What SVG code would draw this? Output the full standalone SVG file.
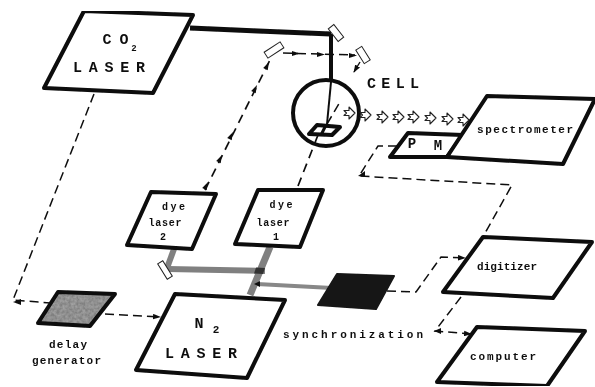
<svg xmlns="http://www.w3.org/2000/svg" width="595" height="387" viewBox="0 0 595 387">
<style>
.box{fill:#fff;stroke:#0a0a0a;stroke-width:4;stroke-linejoin:round}
.dash{fill:none;stroke:#111;stroke-width:1.5;stroke-dasharray:9 5}
.dashb{fill:none;stroke:#111;stroke-width:1.7;stroke-dasharray:9 6}
.t{font-family:"Liberation Mono",monospace;font-weight:bold;fill:#111;text-anchor:middle}
.mir{fill:#fff;stroke:#222;stroke-width:1}
.open{fill:#fff;stroke:#222;stroke-width:1.1;stroke-linejoin:round}
.ah{fill:#111;stroke:none}
</style>
<defs>
<marker id="arr" markerWidth="8" markerHeight="6" refX="7" refY="3" orient="auto" markerUnits="userSpaceOnUse"><path class="ah" d="M0 0.2L8 3L0 5.800z"/></marker>
<path id="oa" class="open" d="M-5 -2.500H0V-6L6 0L0 6V2.500H-5L-2.500 0z"/>
<filter id="soft" x="0" y="0" width="1" height="1"><feGaussianBlur stdDeviation="0.4"/></filter>
<filter id="grain" x="0" y="0" width="1" height="1"><feTurbulence type="fractalNoise" baseFrequency="0.35" numOctaves="2" seed="4"/><feColorMatrix values="0 0 0 0 0.4 0 0 0 0 0.4 0 0 0 0 0.4 1.4 0 0 0 -0.35"/><feComposite in2="SourceGraphic" operator="in"/><feMerge><feMergeNode in="SourceGraphic"/><feMergeNode/></feMerge></filter>
</defs>
<rect width="595" height="387" fill="#fff"/>
<g filter="url(#soft)">
<g id="connectors">
<path d="M190 28L331 34" fill="none" stroke="#0a0a0a" stroke-width="5"/>
<path d="M331 34V82" fill="none" stroke="#0a0a0a" stroke-width="4"/>
<path d="M174 249L167 268" fill="none" stroke="#808080" stroke-width="6"/>
<path d="M168 269L265 271" fill="none" stroke="#808080" stroke-width="6"/>
<path d="M270 247L250 295" fill="none" stroke="#808080" stroke-width="7"/>
<path d="M257 284L332 288" fill="none" stroke="#888" stroke-width="4"/>
<path d="M256 267.500L265 268L263 274L254 273.500z" fill="#333"/>
<path d="M254 284L260 281V287z" fill="#111"/>
<path class="dash" d="M94 94L13 300L50 303"/>
<path d="M13 302L21 299V305z" fill="#111"/>
<path class="dash" d="M105 314L160 317" marker-end="url(#arr)"/>
<path class="dashb" d="M205 190L270 60"/>
<path class="ah" d="M269 62L267.700 70.300L263.200 68.100z M257 85L255.700 93.300L251.200 91.100z M233 132L231.700 140.300L227.200 138.100z M222 155L220.700 163.300L216.200 161.100z M208 182L206.700 190.300L202.200 188.100z"/>
<path class="dashb" d="M298 186L318 135"/>
<path class="dash" d="M283 53L355 55"/>
<path class="ah" d="M300 53.500L292 51V56z M325 54.500L317 52V57z M357 55.500L349 53V58z"/>
<path d="M360 62L354 72" fill="none" stroke="#111" stroke-width="1.400" marker-end="url(#arr)"/>
<path class="dash" d="M397 146H378L359 176L512 185L484 235"/>
<path class="ah" d="M358 176L365 171V177z"/>
<path class="dash" d="M387 291L416 292L441 257L465 258" marker-end="url(#arr)"/>
<path class="dash" d="M461 297L435 331L471 334" marker-end="url(#arr)"/>
<path class="ah" d="M434 331L441 328V334z"/>
</g>
<g id="co2-laser"><path class="box" d="M84 11L193 15L153 93L44 88z"/>
<text class="t" x="115.500" y="44" font-size="15" textLength="26" lengthAdjust="spacing" xml:space="preserve">C O</text><text class="t" x="134" y="51" font-size="9">2</text>
<text class="t" x="109" y="72" font-size="15" textLength="72" lengthAdjust="spacing">LASER</text></g>
<g id="mirrors">
<rect class="mir" x="-9.500" y="-3.500" width="19" height="7" transform="translate(274 50) rotate(-33)"/>
<rect class="mir" x="-8" y="-3.500" width="16" height="7" transform="translate(336 33) rotate(52)"/>
<rect class="mir" x="-8" y="-3.500" width="16" height="7" transform="translate(363 55) rotate(58)"/>
<rect class="mir" x="-9" y="-3" width="18" height="6" transform="translate(165 270) rotate(58)"/>
</g>
<g id="cell">
<circle cx="326" cy="113" r="33" fill="none" stroke="#0a0a0a" stroke-width="4"/>
<path d="M331 82L327 124" fill="none" stroke="#111" stroke-width="2"/>
<path class="dash" d="M327 124L340 102"/>
<path d="M317 125L340 127L332 135L309 134z" fill="#fff" stroke="#0a0a0a" stroke-width="4" stroke-linejoin="round"/>
<path d="M326 125L321 135" stroke="#0a0a0a" stroke-width="3"/>
<text class="t" x="393" y="88" font-size="15" textLength="52" lengthAdjust="spacing">CELL</text>
</g>
<g id="open-arrows">
<use href="#oa" x="349" y="113"/><use href="#oa" x="365" y="115"/><use href="#oa" x="382" y="117"/><use href="#oa" x="398" y="117"/><use href="#oa" x="413" y="117"/><use href="#oa" x="430" y="118"/><use href="#oa" x="447" y="119"/><use href="#oa" x="463" y="120"/>
</g>
<g id="pm"><path class="box" d="M408 133L463 135L447 157L390 157z"/>
<text class="t" x="412" y="148" font-size="14">P</text><text class="t" x="438" y="150" font-size="14">M</text></g>
<g id="spectrometer"><path class="box" d="M487 96L595 99L563 164L447 157z"/>
<text class="t" x="525" y="133" font-size="11" textLength="96" lengthAdjust="spacing">spectrometer</text></g>
<g id="dye-laser-2"><path class="box" d="M151 192L216 194L192 249L127 245z"/>
<text class="t" x="173.500" y="210" font-size="10" textLength="23" lengthAdjust="spacing">dye</text>
<text class="t" x="165" y="226" font-size="10" textLength="33" lengthAdjust="spacing">laser</text>
<text class="t" x="163" y="240" font-size="10">2</text></g>
<g id="dye-laser-1"><path class="box" d="M258 190L323 190L300 247L235 244z"/>
<text class="t" x="281" y="208" font-size="10" textLength="23" lengthAdjust="spacing">dye</text>
<text class="t" x="273" y="226" font-size="10" textLength="33" lengthAdjust="spacing">laser</text>
<text class="t" x="276" y="240" font-size="10">1</text></g>
<g id="n2-laser"><path class="box" d="M175 294L285 300L247 378L136 370z"/>
<text class="t" x="199" y="328" font-size="15">N</text><text class="t" x="216" y="333" font-size="11">2</text>
<text class="t" x="201" y="358" font-size="15" textLength="72" lengthAdjust="spacing">LASER</text></g>
<g id="delay-generator"><path d="M58 292L115 294L90 326L38 323z" fill="#808080" filter="url(#grain)"/><path d="M58 292L115 294L90 326L38 323z" fill="none" stroke="#0a0a0a" stroke-width="4" stroke-linejoin="round"/>
<text class="t" x="68" y="348" font-size="11" textLength="38" lengthAdjust="spacing">delay</text>
<text class="t" x="66.500" y="364" font-size="11" textLength="69" lengthAdjust="spacing">generator</text></g>
<g id="synchronization"><path d="M337 274L394 276L376 309L318 305z" fill="#141414" stroke="#141414" stroke-width="2" stroke-linejoin="round"/>
<text class="t" x="353" y="338" font-size="11" textLength="140" lengthAdjust="spacing">synchronization</text></g>
<g id="digitizer"><path class="box" d="M483 237L592 242L553 298L443 292z"/>
<text class="t" x="507" y="270" font-size="11" textLength="60" lengthAdjust="spacing">digitizer</text></g>
<g id="computer"><path class="box" d="M477 327L585 331L547 386L437 382z"/>
<text class="t" x="503" y="360" font-size="11" textLength="66" lengthAdjust="spacing">computer</text></g>
</g>
</svg>
